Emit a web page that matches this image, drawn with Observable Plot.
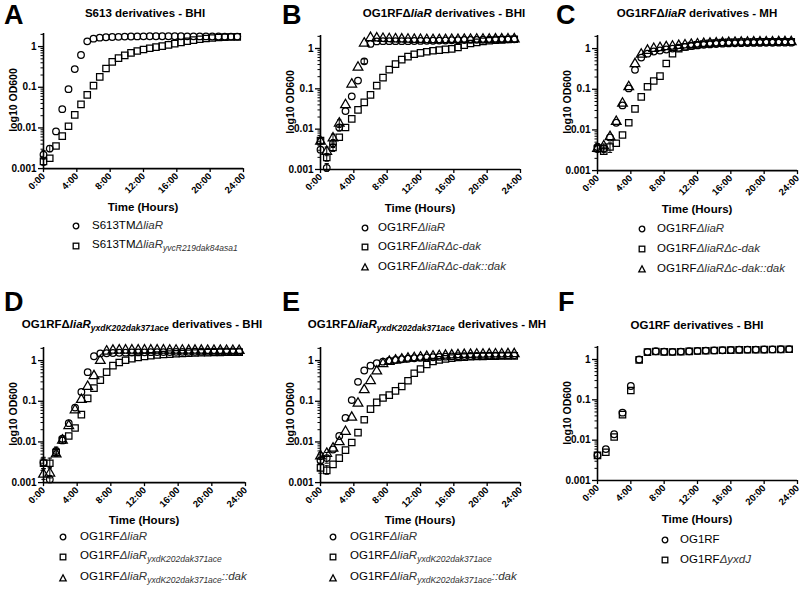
<!DOCTYPE html>
<html>
<head>
<meta charset="utf-8">
<script src="https://cdn.jsdelivr.net/npm/d3@7"></script>
<script src="https://cdn.jsdelivr.net/npm/@observablehq/plot@0.6"></script>
<style>
  html, body { margin: 0; padding: 0; background: #fff; }
  #root { position: relative; width: 800px; height: 592px; overflow: hidden; background: #fff;
          font-family: 'Liberation Sans', Arial, Helvetica, sans-serif; color: #000; }
  .abs { position: absolute; white-space: nowrap; line-height: 1.15; }
  .letter { font-size: 27px; font-weight: bold; line-height: 1; }
  .title { font-size: 11.5px; font-weight: bold; transform: translate(-50%, -50%); }
  .title sub { font-size: 8.5px; font-style: italic; vertical-align: -3px; }
  .xlab { font-size: 11.5px; font-weight: bold; transform: translate(-50%, -50%); }
  .ylab { font-size: 10.5px; font-weight: bold; transform: translate(-50%, -50%) rotate(-90deg); }
  .leg { font-size: 11.5px; transform: translateY(-50%); }
  .leg i { color: #333; }
  .leg sub { font-size: 8.5px; font-style: italic; vertical-align: -3px; color: #333; }
  .mk { position: absolute; width: 10px; height: 10px; }
</style>
</head>
<body>
<div id="root"></div>
<script>
// ---------------- data ----------------
const hours45 = [0,0.75,1.5,2.25,3,3.75,4.5,5.25,6,6.75,7.5,8.25,9,9.75,10.5,11.25,12,12.75,13.5,14.25,15,15.75,16.5,17.25,18,18.75,19.5,20.25,21,21.75,22.5,23.25];
const hours1 = [0,1,2,3,4,5,6,7,8,9,10,11,12,13,14,15,16,17,18,19,20,21,22,23];
const xTicks = [0,4,8,12,16,20,24];
const xTickLabels = ["0:00","4:00","8:00","12:00","16:00","20:00","24:00"];
const yTicks = [0.001,0.01,0.1,1];
const yTickLabels = ["0.001","0.01","0.1","1"];
const yMax = 2.1;

// Panel A
const A_liaR = [0.0022,0.0031,0.0082,0.029,0.09,0.28,0.62,1.35,1.57,1.66,1.70,1.72,1.74,1.76,1.77,1.78,1.79,1.80,1.80,1.80,1.80,1.80,1.80,1.79,1.79,1.78,1.78,1.77,1.77,1.76,1.76,1.76];
const A_yvcR = [0.0015,0.0018,0.0036,0.0063,0.011,0.021,0.038,0.065,0.11,0.18,0.29,0.42,0.52,0.61,0.70,0.78,0.85,0.91,0.97,1.03,1.10,1.18,1.26,1.35,1.44,1.52,1.58,1.63,1.67,1.70,1.72,1.73];
// Panel B
const B_liaR = [0.0031,0.0011,0.0045,0.011,0.028,0.065,0.16,0.48,1.30,1.50,1.52,1.52,1.52,1.52,1.52,1.53,1.54,1.55,1.56,1.57,1.58,1.60,1.61,1.62,1.63,1.64,1.65,1.66,1.67,1.68,1.69,1.70];
const B_cdak = [0.0052,0.0020,0.0035,0.0063,0.011,0.018,0.030,0.046,0.071,0.12,0.19,0.30,0.41,0.53,0.63,0.72,0.78,0.83,0.88,0.91,0.95,0.98,1.06,1.20,1.33,1.42,1.50,1.56,1.60,1.64,1.67,1.70];
const B_dak = [0.0050,0.0028,0.0060,0.014,0.040,0.13,0.34,1.35,1.85,1.80,1.76,1.74,1.72,1.70,1.68,1.67,1.66,1.65,1.65,1.65,1.65,1.66,1.66,1.67,1.67,1.68,1.68,1.69,1.70,1.70,1.71,1.72];
// Panel C
const C_liaR = [0.0038,0.0035,0.0065,0.015,0.040,0.105,0.30,0.60,0.75,0.85,0.90,0.95,1.00,1.05,1.10,1.15,1.20,1.24,1.27,1.30,1.32,1.34,1.35,1.36,1.37,1.38,1.38,1.39,1.39,1.40,1.40,1.40];
const C_cdak = [0.0035,0.0030,0.0038,0.0047,0.0075,0.015,0.033,0.065,0.115,0.16,0.21,0.43,0.75,1.00,1.10,1.18,1.24,1.30,1.34,1.37,1.40,1.42,1.43,1.44,1.45,1.45,1.46,1.46,1.46,1.46,1.47,1.47];
const C_dak = [0.0035,0.0040,0.0068,0.016,0.045,0.115,0.42,0.72,0.90,1.00,1.05,1.10,1.14,1.18,1.22,1.26,1.29,1.32,1.34,1.36,1.38,1.40,1.41,1.42,1.43,1.44,1.44,1.45,1.45,1.46,1.46,1.46];
// Panel D
const D_liaR = [0.0031,0.0012,0.0060,0.012,0.029,0.070,0.17,0.52,1.28,1.50,1.52,1.54,1.56,1.57,1.58,1.59,1.60,1.61,1.62,1.62,1.63,1.64,1.64,1.65,1.65,1.66,1.66,1.66,1.67,1.67,1.67,1.67];
const D_yxdK = [0.0030,0.0030,0.0055,0.011,0.014,0.022,0.047,0.118,0.21,0.33,0.52,0.75,0.90,1.02,1.12,1.20,1.27,1.32,1.37,1.41,1.44,1.47,1.50,1.52,1.54,1.56,1.57,1.58,1.59,1.60,1.61,1.62];
const D_dak = [0.0016,0.0017,0.0050,0.011,0.025,0.061,0.11,0.23,0.42,1.00,1.70,1.78,1.80,1.80,1.80,1.80,1.80,1.80,1.80,1.80,1.79,1.79,1.79,1.78,1.78,1.78,1.77,1.77,1.77,1.76,1.76,1.76];
// Panel E
const E_liaR = [0.0035,0.0040,0.0065,0.014,0.039,0.107,0.30,0.57,0.75,0.86,0.94,1.00,1.04,1.08,1.11,1.14,1.17,1.19,1.21,1.23,1.25,1.27,1.28,1.29,1.30,1.31,1.32,1.33,1.33,1.34,1.34,1.35];
const E_yxdK = [0.0023,0.0020,0.0028,0.0040,0.0063,0.0097,0.017,0.035,0.064,0.094,0.12,0.142,0.18,0.23,0.32,0.49,0.62,0.80,0.95,1.04,1.10,1.15,1.19,1.22,1.24,1.26,1.27,1.28,1.29,1.30,1.30,1.31];
const E_dak = [0.0045,0.0052,0.0070,0.010,0.018,0.040,0.089,0.19,0.32,0.55,0.83,0.95,1.02,1.08,1.13,1.17,1.21,1.25,1.28,1.31,1.34,1.36,1.38,1.40,1.41,1.42,1.43,1.44,1.45,1.45,1.46,1.46];
// Panel F
const F_OG1RF = [0.0042,0.0060,0.014,0.048,0.22,1.00,1.55,1.60,1.56,1.55,1.57,1.60,1.63,1.66,1.68,1.70,1.72,1.74,1.75,1.76,1.77,1.78,1.79,1.80];
const F_yxdJ = [0.0042,0.0050,0.012,0.043,0.17,0.98,1.52,1.58,1.54,1.53,1.56,1.59,1.62,1.65,1.67,1.69,1.71,1.73,1.74,1.75,1.76,1.77,1.78,1.79];

// error bars: [point index, low, high]
const A_liaR_err = [[0,0.0017,0.0028],[1,0.0026,0.0037]];
const A_yvcR_err = [[0,0.0012,0.0018]];
const B_liaR_err = [[1,0.0009,0.0014],[2,0.0035,0.0055],[3,0.009,0.013],[7,0.42,0.55]];
const B_cdak_err = [[0,0.0045,0.0060],[1,0.0016,0.0025],[2,0.0028,0.0043]];
const B_dak_err = [[0,0.0042,0.0060],[1,0.0022,0.0036],[2,0.0048,0.0075],[3,0.011,0.017]];
const C_liaR_err = [[0,0.0030,0.0046],[1,0.0028,0.0045]];
const C_cdak_err = [[1,0.0025,0.0038],[2,0.0028,0.0048]];
const C_dak_err = [[0,0.0028,0.0043]];
const D_liaR_err = [[0,0.0022,0.0042],[1,0.0010,0.0015],[2,0.0045,0.0075]];
const D_yxdK_err = [[0,0.0022,0.0040],[1,0.0023,0.0040],[2,0.0045,0.0068],[3,0.009,0.013]];
const D_dak_err = [[0,0.0012,0.0022],[1,0.0013,0.0023]];
const E_liaR_err = [[0,0.0028,0.0045],[1,0.0030,0.0055]];
const E_yxdK_err = [[0,0.0017,0.0030],[1,0.0016,0.0026]];
const E_dak_err = [[0,0.0037,0.0055]];

// legend / title texts
const L_liaR = "OG1RF<i>\u0394liaR</i>";
const L_cdak = "OG1RF<i>\u0394liaR\u0394c-dak</i>";
const L_cdakdak = "OG1RF<i>\u0394liaR\u0394c-dak::dak</i>";
const L_yxdK = "OG1RF<i>\u0394liaR</i><sub>yxdK202dak371ace</sub>";
const L_yxdKdak = "OG1RF<i>\u0394liaR</i><sub>yxdK202dak371ace</sub><i>::dak</i>";

// ---------------- layout ----------------
const panels = [
  { letter: "A", lx: 4, ly: 2, x0: 43, x1: 243, yb: 168, y1: 46,
    title: "S613 derivatives - BHI", tx: 145, ty: 14, timeY: 208,
    legend: { mx: 76, tx: 92, ys: [226, 246] },
    series: [
      { sym: "circle", t: hours45, v: A_liaR, err: A_liaR_err, label: "S613TM<i>\u0394liaR</i>" },
      { sym: "square", t: hours45, v: A_yvcR, err: A_yvcR_err, label: "S613TM<i>\u0394liaR</i><sub>yvcR219dak84asa1</sub>" } ] },
  { letter: "B", lx: 282, ly: 2, x0: 320, x1: 520, yb: 169, y1: 48,
    title: "OG1RF\u0394<i>liaR</i> derivatives - BHI", tx: 444, ty: 14, timeY: 209,
    legend: { mx: 365, tx: 378, ys: [228, 247, 267] },
    series: [
      { sym: "circle", t: hours45, v: B_liaR, err: B_liaR_err, label: L_liaR },
      { sym: "square", t: hours45, v: B_cdak, err: B_cdak_err, label: L_cdak },
      { sym: "triangle", t: hours45, v: B_dak, err: B_dak_err, label: L_cdakdak } ] },
  { letter: "C", lx: 556, ly: 2, x0: 597, x1: 797, yb: 170, y1: 48,
    title: "OG1RF\u0394<i>liaR</i> derivatives - MH", tx: 697, ty: 14, timeY: 210,
    legend: { mx: 642, tx: 657, ys: [229, 249, 269] },
    series: [
      { sym: "circle", t: hours45, v: C_liaR, err: C_liaR_err, label: L_liaR },
      { sym: "square", t: hours45, v: C_cdak, err: C_cdak_err, label: L_cdak },
      { sym: "triangle", t: hours45, v: C_dak, err: C_dak_err, label: L_cdakdak } ] },
  { letter: "D", lx: 4, ly: 289, x0: 43, x1: 245, yb: 482, y1: 360,
    title: "OG1RF\u0394<i>liaR</i><sub>yxdK202dak371ace</sub> derivatives - BHI", tx: 142, ty: 326, timeY: 521,
    legend: { mx: 63, tx: 80, ys: [537, 557, 578] },
    series: [
      { sym: "circle", t: hours45, v: D_liaR, err: D_liaR_err, label: L_liaR },
      { sym: "square", t: hours45, v: D_yxdK, err: D_yxdK_err, label: L_yxdK },
      { sym: "triangle", t: hours45, v: D_dak, err: D_dak_err, label: L_yxdKdak } ] },
  { letter: "E", lx: 282, ly: 289, x0: 320, x1: 520, yb: 482, y1: 360,
    title: "OG1RF\u0394<i>liaR</i><sub>yxdK202dak371ace</sub> derivatives - MH", tx: 427, ty: 326, timeY: 521,
    legend: { mx: 333, tx: 350, ys: [537, 557, 578] },
    series: [
      { sym: "circle", t: hours45, v: E_liaR, err: E_liaR_err, label: L_liaR },
      { sym: "square", t: hours45, v: E_yxdK, err: E_yxdK_err, label: L_yxdK },
      { sym: "triangle", t: hours45, v: E_dak, err: E_dak_err, label: L_yxdKdak } ] },
  { letter: "F", lx: 558, ly: 289, x0: 597, x1: 797, yb: 480, y1: 359,
    title: "OG1RF derivatives - BHI", tx: 697, ty: 326, timeY: 520,
    legend: { mx: 665, tx: 680, ys: [540, 560] },
    series: [
      { sym: "circle", t: hours1, v: F_OG1RF, err: [], label: "OG1RF" },
      { sym: "square", t: hours1, v: F_yxdJ, err: [], label: "OG1RF<i>\u0394yxdJ</i>" } ] }
];

const minorTicks = [];
for (const d of [0.001, 0.01, 0.1, 1]) for (let k = 2; k <= 9; k++) { const v = d * k; if (v <= yMax) minorTicks.push(v); }

// a short horizontal bar used as error-bar cap
const capSymbol = { draw(ctx, size) { const w = Math.sqrt(size) / 2; ctx.moveTo(-w, 0); ctx.lineTo(w, 0); } };

const root = document.getElementById("root");
function add(html, cls, left, top) {
  const el = document.createElement("div");
  el.className = "abs " + cls;
  el.style.left = left + "px"; el.style.top = top + "px";
  el.innerHTML = html; root.appendChild(el); return el;
}
function markerSvg(sym) {
  const st = 'fill="none" stroke="#000" stroke-width="1.3"';
  if (sym === "circle") return `<svg class="mk" viewBox="0 0 10 10"><circle cx="5" cy="5" r="2.8" ${st}/></svg>`;
  if (sym === "square") return `<svg class="mk" viewBox="0 0 10 10"><rect x="2.2" y="2.2" width="5.6" height="5.6" ${st}/></svg>`;
  return `<svg class="mk" viewBox="0 0 10 10"><path d="M5,1.8L8.2,7.9L1.8,7.9Z" ${st}/></svg>`;
}

for (const p of panels) {
  const ml = 46, mr = 6, mt = 4, mb = 42;
  const decade = (p.yb - p.y1) / 3;
  const yTop = p.y1 - decade * Math.log10(yMax);
  const W = ml + (p.x1 - p.x0) + mr;
  const H = mt + (p.yb - yTop) + mb;
  const marks = [
    Plot.axisY(minorTicks, { tickSize: 2.5, tickFormat: () => "", stroke: "#000", strokeWidth: 1, label: null }),
    Plot.axisY(yTicks, { tickSize: 5, tickPadding: 2, tickFormat: d => yTickLabels[yTicks.indexOf(d)], stroke: "#000", strokeWidth: 1.3, fontSize: 10, fontWeight: "bold", label: null }),
    Plot.axisX(xTicks, { tickSize: 4, tickPadding: 2, tickRotate: -45, tickFormat: d => xTickLabels[xTicks.indexOf(d)], stroke: "#000", strokeWidth: 1.3, fontSize: 9.5, fontWeight: "bold", label: null }),
    Plot.ruleX([0], { stroke: "#000", strokeWidth: 1.6 }),
    Plot.ruleY([0.001], { stroke: "#000", strokeWidth: 1.6 })
  ];
  for (const s of p.series) {
    const errData = s.err.map(([i, lo, hi]) => ({ t: s.t[i], lo, hi }));
    if (errData.length) {
      marks.push(Plot.ruleX(errData, { x: "t", y1: "lo", y2: "hi", stroke: "#000", strokeWidth: 1 }));
      marks.push(Plot.dot(errData, { x: "t", y: "lo", symbol: capSymbol, r: 2.4, stroke: "#000", strokeWidth: 1, fill: "none" }));
      marks.push(Plot.dot(errData, { x: "t", y: "hi", symbol: capSymbol, r: 2.4, stroke: "#000", strokeWidth: 1, fill: "none" }));
    }
    const data = s.t.map((t, i) => ({ t, v: s.v[i] }));
    marks.push(Plot.dot(data, { x: "t", y: "v", symbol: s.sym, r: s.sym === "circle" ? 3.3 : 3.6, stroke: "#000", fill: "none", strokeWidth: 1.25 }));
  }
  const chart = Plot.plot({
    width: W, height: H, marginLeft: ml, marginRight: mr, marginTop: mt, marginBottom: mb,
    x: { domain: [0, 24] },
    y: { type: "log", domain: [0.001, yMax] },
    style: { fontFamily: "'Liberation Sans', Arial, sans-serif", fontSize: "10px", color: "#000", background: "transparent", overflow: "visible" },
    marks
  });
  chart.style.position = "absolute";
  chart.style.left = (p.x0 - ml) + "px";
  chart.style.top = (yTop - mt) + "px";
  root.appendChild(chart);

  add(p.letter, "letter", p.lx, p.ly);
  add(p.title, "title", p.tx, p.ty);
  add("Time (Hours)", "xlab", (p.x0 + p.x1) / 2, p.timeY);
  add("log10 OD600", "ylab", p.x0 - 30, (yTop + p.yb) / 2);
  p.series.forEach((s, i) => {
    const y = p.legend.ys[i];
    const m = document.createElement("div");
    m.className = "abs"; m.style.left = (p.legend.mx - 5) + "px"; m.style.top = (y - 5) + "px";
    m.style.width = "10px"; m.style.height = "10px";
    m.innerHTML = markerSvg(s.sym); root.appendChild(m);
    add(s.label, "leg", p.legend.tx, y);
  });
}
</script>
</body>
</html>
